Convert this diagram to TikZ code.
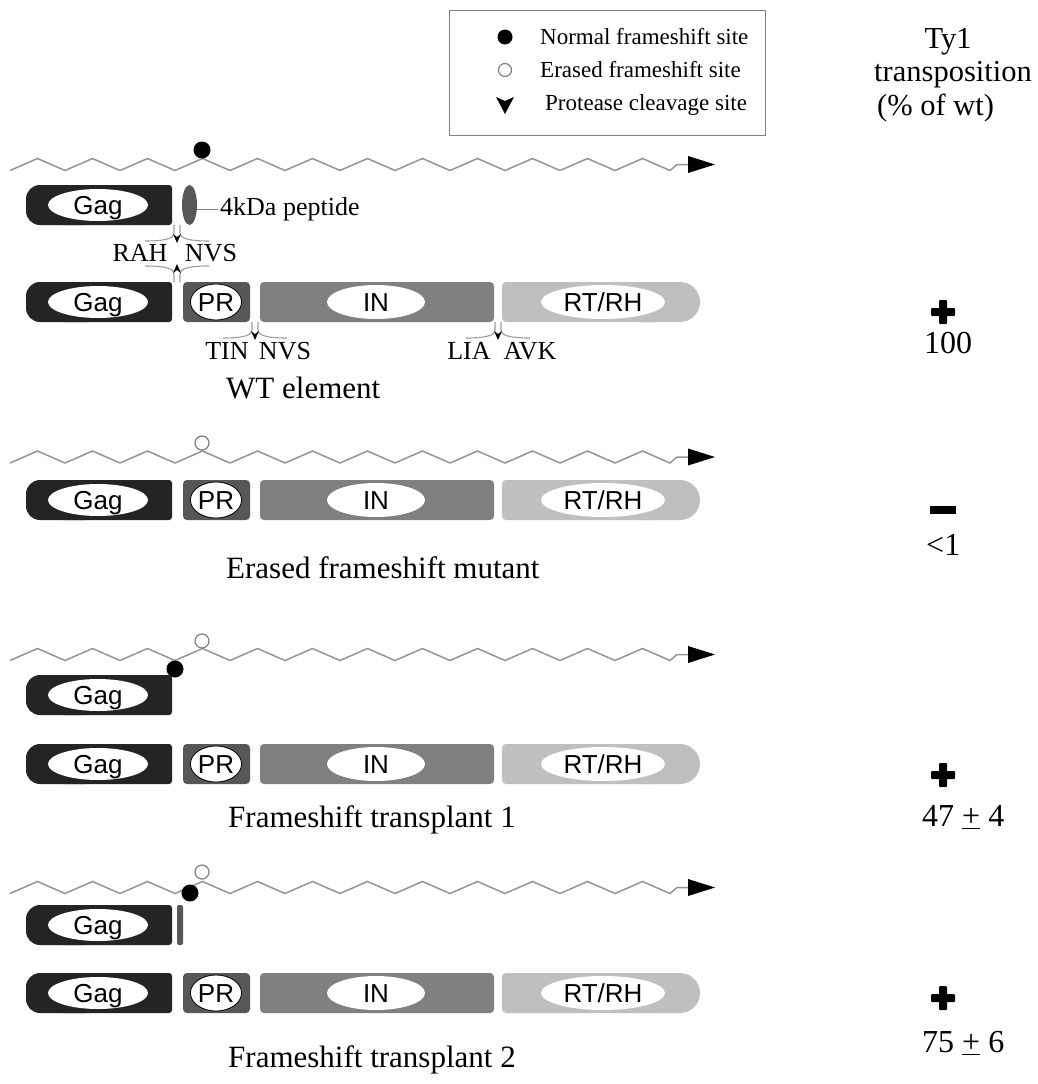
\documentclass[tikz,border=0pt]{standalone}
\usepackage{fontspec}
\setmainfont{Liberation Serif}
\newfontfamily\hel{Liberation Sans}
\usetikzlibrary{shapes.geometric}
\definecolor{gagc}{gray}{0.14}
\definecolor{prc}{gray}{0.34}
\definecolor{inc}{gray}{0.50}
\definecolor{rtc}{gray}{0.75}
\definecolor{wavec}{gray}{0.58}
\definecolor{cutc}{gray}{0.62}
\tikzset{
  wavestyle/.style={draw=wavec,line width=1.5pt,line join=miter},
  ovl/.style={ellipse,fill=white,inner sep=0pt,text height=19pt,text depth=0pt,font=\hel\fontsize{26}{28}\selectfont},
  cutline/.style={draw=cutc,line width=1.1pt},
  lab/.style={inner sep=0pt,font=\fontsize{26}{28}\selectfont},
  ttl/.style={inner sep=0pt,anchor=west,font=\fontsize{31}{35}\selectfont},
  num/.style={inner sep=0pt,anchor=west,font=\fontsize{32}{36}\selectfont},
  hdr/.style={inner sep=0pt,font=\fontsize{30.5}{34}\selectfont},
  leg/.style={inner sep=0pt,anchor=west,font=\fontsize{23}{26}\selectfont},
  fsfull/.style={fill=black},
  fsopen/.style={fill=white,draw=gray,line width=1.2pt}
}
\newcommand\zigwave[1]{%
  \draw[wavestyle] (10,{#1+6}) \foreach \k in {0,...,11}{ -- ({37.5+55*\k},{#1-6}) -- ({65+55*\k},{#1+6}) } -- (677,#1) -- (692,#1);
  \fill (688,{#1-8.5}) -- (715,#1) -- (688,{#1+8.5}) -- cycle;
}
\newcommand\gagbar[2]{%
  \fill[gagc,rounded corners=14pt] (26,{#2-20}) rectangle (100,{#2+20});
  \fill[gagc,rounded corners=3pt] (60,{#2-20}) rectangle (172,{#2+20});
  \node[ovl,minimum width=100pt,minimum height=32pt] (#1gag) at (98,#2) {Gag};
}
\newcommand\generow[2]{%
  \gagbar{#1}{#2}
  \fill[prc,rounded corners=4pt] (183,{#2-20}) rectangle (250,{#2+20});
  \node[ovl,draw=black,line width=0.8pt,minimum width=48pt,minimum height=36pt] (#1pr) at (216,#2) {PR};
  \fill[inc,rounded corners=4pt] (260,{#2-20}) rectangle (494,{#2+20});
  \node[ovl,minimum width=98pt,minimum height=34pt] (#1in) at (376,#2) {IN};
  \fill[rtc,rounded corners=4pt] (502,{#2-20}) rectangle (660,{#2+20});
  \fill[rtc,rounded corners=20pt] (620,{#2-20}) rectangle (700,{#2+20});
  \node[ovl,minimum width=124pt,minimum height=34pt] (#1rt) at (603,#2) {RT/RH};
}
\newcommand\cutmark[3]{%
  \draw[cutline] ({#1-3},#2) -- ({#1-3},{#2+#3*8}) .. controls ({#1-3},{#2+#3*14}) and ({#1-14},{#2+#3*16}) .. ({#1-32},{#2+#3*16});
  \draw[cutline] ({#1+3},#2) -- ({#1+3},{#2+#3*8}) .. controls ({#1+3},{#2+#3*14}) and ({#1+14},{#2+#3*16}) .. ({#1+32},{#2+#3*16});
  \fill ({#1-4},{#2+#3*9}) -- (#1,{#2+#3*12}) -- ({#1+4},{#2+#3*9}) -- (#1,{#2+#3*18}) -- cycle;
}
\newcommand\plusmark[2]{%
  \fill[rounded corners=1pt] ({#1-12},{#2-4}) rectangle ({#1+12},{#2+4});
  \fill[rounded corners=1pt] ({#1-4},{#2-12}) rectangle ({#1+4},{#2+12});
}
\begin{document}
\begin{tikzpicture}[x=1pt,y=-1pt]
\useasboundingbox (0,0) rectangle (1037,1084);
\fill[white] (0,0) rectangle (1037,1084);

% legend
\draw[gray,line width=0.8pt] (449,10) rectangle (765,135);
\fill[fsfull] (505,37) circle (7.5);
\node[leg] (l1) at (540,37) {Normal frameshift site};
\draw[fsopen] (505,70) circle (6.5);
\node[leg] (l2) at (540,70) {Erased frameshift site};
\fill (496,97) -- (505,101) -- (514,97) -- (505,114) -- cycle;
\node[leg] (l3) at (545,105) {Protease cleavage site};

% header
\node[hdr] (h1) at (948,42) {Ty1};
\node[hdr,anchor=west] (h2) at (874,75) {transposition};
\node[hdr,anchor=west] (h3) at (877,108) {(\% of wt)};

% ---------- group 1: WT element
\zigwave{164.5}
\fill[fsfull] (202,150) circle (8.5);
\gagbar{a}{205}
\fill[prc] (189.5,205) ellipse (7.5 and 20);
\draw[gray,line width=1pt] (197,209) -- (218,209);
\node[lab,anchor=west] (pep) at (220,209) {4kDa peptide};
\cutmark{177}{225}{1}
\cutmark{177}{282}{-1}
\node[lab] (rah) at (140,253) {RAH};
\node[lab] (nvs1) at (211,253) {NVS};
\generow{b}{302}
\cutmark{255}{322}{1}
\cutmark{498}{322}{1}
\node[lab] (tin) at (227,351) {TIN};
\node[lab] (nvs2) at (285,351) {NVS};
\node[lab] (lia) at (469,351) {LIA};
\node[lab] (avk) at (530,351) {AVK};
\node[ttl] (t1) at (226,388) {WT element};
\plusmark{943}{312}
\node[num] (n1) at (924,343) {100};

% ---------- group 2: erased frameshift mutant
\zigwave{457}
\draw[fsopen] (202,443) circle (7);
\generow{c}{500}
\node[ttl] (t2) at (226,568) {Erased frameshift mutant};
\fill ({943-13},506) rectangle ({943+13},514);
\node[num] (n2) at (926,545) {<1};

% ---------- group 3: frameshift transplant 1
\zigwave{654.5}
\draw[fsopen] (202,641) circle (7);
\fill[fsfull] (175,669) circle (8.5);
\gagbar{d}{695}
\generow{e}{764}
\node[ttl] (t3) at (228,820) {Frameshift transplant 1};
\plusmark{943}{775}
\node[num] (n3) at (922,817) {47 \underline{+} 4};

% ---------- group 4: frameshift transplant 2
\zigwave{887.5}
\draw[fsopen] (202,872) circle (7);
\fill[fsfull] (190,893) circle (8.5);
\gagbar{f}{925}
\fill[prc,rounded corners=2pt] (177,905) rectangle (183,945);
\generow{g}{993}
\node[ttl] (t4) at (228,1060) {Frameshift transplant 2};
\plusmark{943}{998}
\node[num] (n4) at (922,1043) {75 \underline{+} 6};
\end{tikzpicture}
\end{document}
